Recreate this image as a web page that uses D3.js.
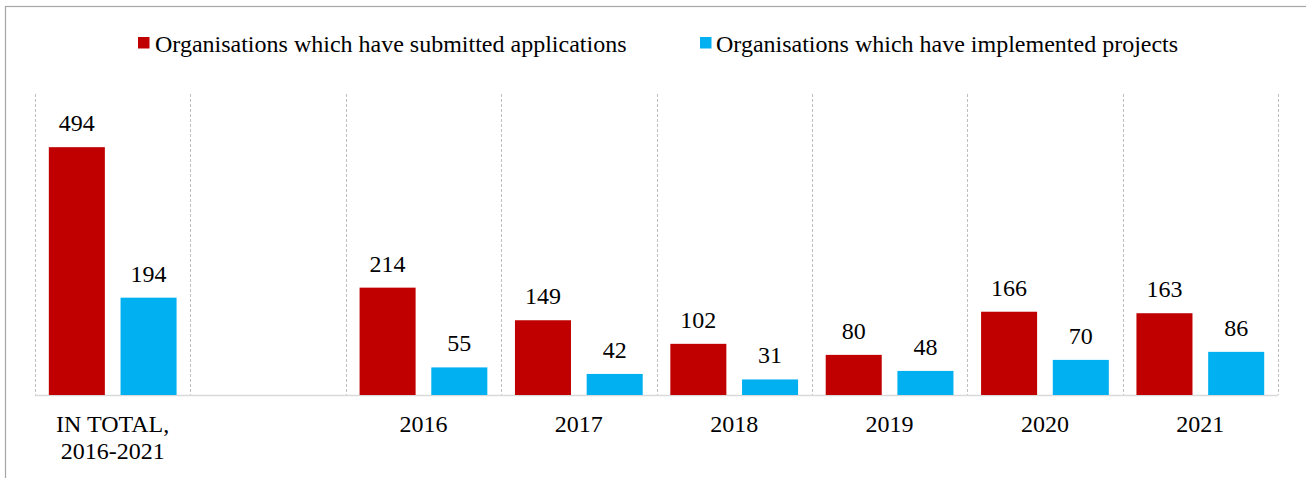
<!DOCTYPE html>
<html>
<head>
<meta charset="utf-8">
<script src="https://cdn.jsdelivr.net/npm/d3@7"></script>
<style>
  html, body { margin: 0; padding: 0; background: #fff; }
  svg { display: block; }
</style>
</head>
<body>
<script>
const categories = ["IN TOTAL,\n2016-2021", "", "2016", "2017", "2018", "2019", "2020", "2021"];
const submitted = [494, null, 214, 149, 102, 80, 166, 163];
const implemented = [194, null, 55, 42, 31, 48, 70, 86];
const seriesNames = ["Organisations which have submitted applications", "Organisations which have implemented projects"];
const colors = ["#C00000", "#00B0F0"];
const yMax = 600;

const FONT = "'Liberation Serif', 'Times New Roman', Tinos, 'DejaVu Serif', serif";
const FS = 24;
const W = 1306, H = 478;
const svg = d3.select("body").append("svg").attr("width", W).attr("height", H)
  .style("font-family", FONT);

// outer chart border
svg.append("rect").attr("x", 5.5).attr("y", 6.5).attr("width", W + 10).attr("height", H + 10)
  .attr("fill", "none").attr("stroke", "#a6a6a6").attr("stroke-width", 1.2);

const plot = { left: 35, right: 1278, top: 94, bottom: 395 };
const x = d3.scaleBand().domain(d3.range(categories.length)).range([plot.left, plot.right]).paddingInner(0).paddingOuter(0);
const y = d3.scaleLinear().domain([0, yMax]).range([plot.bottom, plot.top]);

const bw = x.bandwidth();
const outerGap = bw * 0.089, barW = bw * 0.3606, innerGap = bw * 0.101;

// dashed vertical gridlines at category boundaries
const bounds = d3.range(categories.length + 1).map(i => i < categories.length ? x(i) : plot.right);
svg.append("g").selectAll("line").data(bounds).join("line")
  .attr("x1", d => Math.round(d) + 0.5).attr("x2", d => Math.round(d) + 0.5)
  .attr("y1", plot.top).attr("y2", plot.bottom)
  .attr("stroke", "#bfbfbf").attr("stroke-width", 1).attr("stroke-dasharray", "3,2");

// baseline
svg.append("line").attr("x1", plot.left).attr("x2", plot.right)
  .attr("y1", plot.bottom + 0.5).attr("y2", plot.bottom + 0.5)
  .attr("stroke", "#d9d9d9").attr("stroke-width", 1.5);

const series = [submitted, implemented];
series.forEach((vals, s) => {
  const data = vals.map((v, i) => ({ i, v })).filter(d => d.v != null);
  const g = svg.append("g");
  const bx = d => x(d.i) + outerGap + s * (barW + innerGap);
  g.selectAll("rect").data(data).join("rect")
    .attr("x", bx).attr("width", barW)
    .attr("y", d => y(d.v)).attr("height", d => plot.bottom - y(d.v))
    .attr("fill", colors[s]);
  g.selectAll("text").data(data).join("text")
    .attr("x", d => bx(d) + barW / 2).attr("y", d => y(d.v) - 16)
    .attr("text-anchor", "middle").attr("font-size", FS).attr("fill", "#000")
    .style("font-family", FONT)
    .text(d => d.v);
});

// category labels
const xl = svg.append("g");
categories.forEach((c, i) => {
  const t = xl.append("text").attr("x", x(i) + bw / 2).attr("y", 432)
    .attr("text-anchor", "middle").attr("font-size", FS).attr("fill", "#000")
    .style("font-family", FONT);
  c.split("\n").forEach((line, k) => {
    t.append("tspan").attr("x", x(i) + bw / 2).attr("dy", k === 0 ? 0 : 27).text(line);
  });
});

// legend
const legendPos = [{ sx: 138, tx: 155 }, { sx: 700, tx: 716 }];
seriesNames.forEach((name, s) => {
  svg.append("rect").attr("x", legendPos[s].sx).attr("y", 37).attr("width", 11.5).attr("height", 11.5)
    .attr("fill", colors[s]);
  svg.append("text").attr("x", legendPos[s].tx).attr("y", 52).attr("font-size", FS).attr("fill", "#000")
    .style("font-family", FONT).text(name);
});
</script>
</body>
</html>
